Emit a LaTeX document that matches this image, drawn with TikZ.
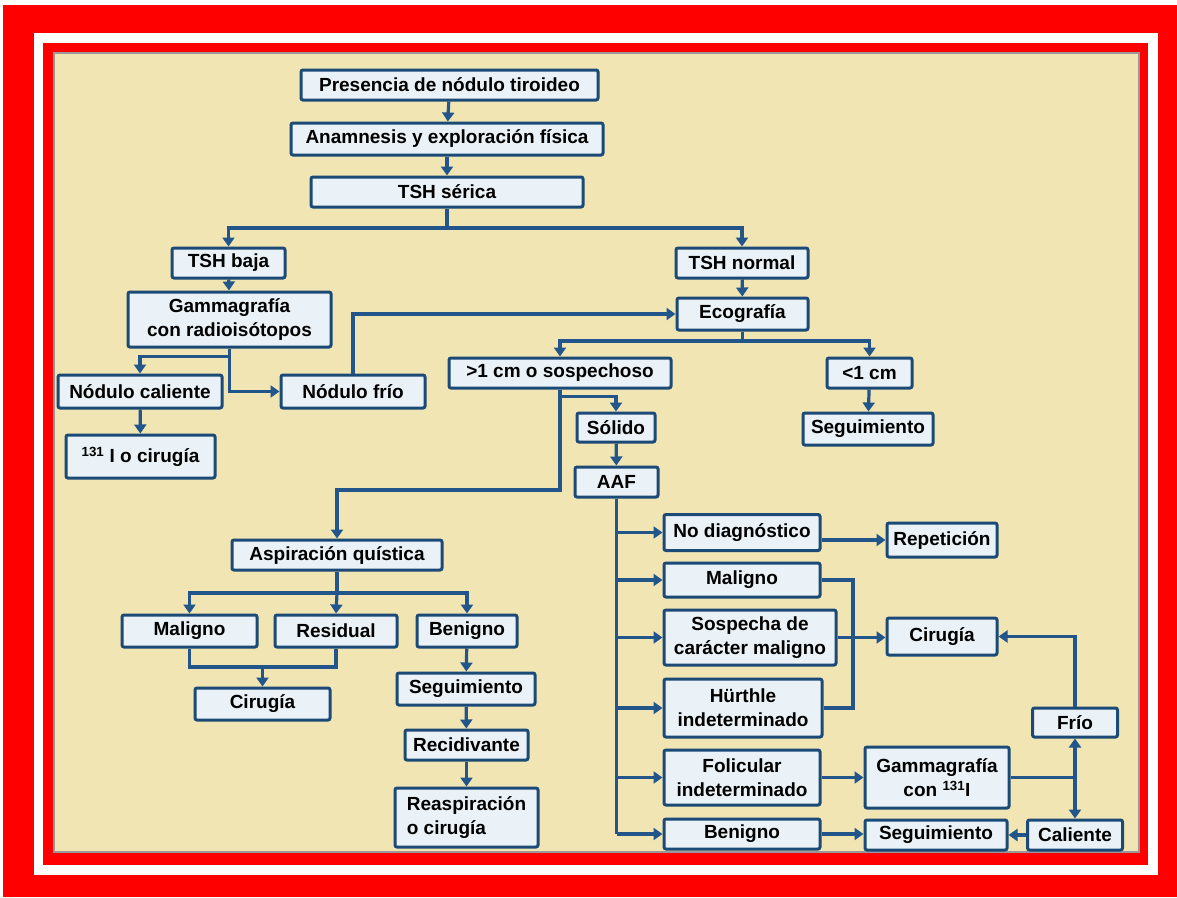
\documentclass[tikz,border=0pt]{standalone}
\usepackage{fontspec}
\setmainfont{Liberation Sans}
\usetikzlibrary{arrows.meta}
\definecolor{bg}{RGB}{241,229,180}
\definecolor{bxline}{RGB}{28,74,118}
\definecolor{bxfill}{RGB}{234,242,247}
\definecolor{conn}{RGB}{34,86,138}
\definecolor{rd}{RGB}{255,0,0}
\tikzset{
 bx/.style={draw=bxline, fill=bxfill, line width=3pt, rounded corners=2pt, inner sep=1pt, align=center, font=\bfseries\fontsize{19}{24}\selectfont, text=black},
 ln/.style={draw=conn, line width=3.2pt},
 ar/.style={ln, -{Triangle[width=12pt,length=9pt]}},
}
\begin{document}
\begin{tikzpicture}[x=1pt,y=-1pt]
\useasboundingbox (0,0) rectangle (1177,897);
% frame
\fill[white] (0,0) rectangle (1177,897);
\fill[rd] (3,5) rectangle (1177,897);
\fill[white] (34,33) rectangle (1158,875);
\fill[rd] (43,43) rectangle (1148,865);
\fill[bg] (54,53) rectangle (1139,852);
\draw[black!40, line width=1.5pt] (54,53) rectangle (1139,852);

% boxes
\node[bx, minimum width=297pt, minimum height=30pt] (pres) at (449.5,85) {Presencia de nódulo tiroideo};
\node[bx, minimum width=312pt, minimum height=32pt] (anam) at (447,139) {Anamnesis y exploración física};
\node[bx, minimum width=272pt, minimum height=30pt] (tsh) at (447,192) {TSH sérica};
\node[bx, minimum width=113pt, minimum height=30pt] (baja) at (228.5,263) {TSH baja};
\node[bx, minimum width=132pt, minimum height=30pt] (normal) at (742,263) {TSH normal};
\node[bx, minimum width=203pt, minimum height=55pt] (gamma) at (229.5,319.5) {Gammagrafía\\con radioisótopos};
\node[bx, minimum width=131pt, minimum height=32pt] (eco) at (742.5,314) {Ecografía};
\node[bx, minimum width=164pt, minimum height=33pt] (cal) at (140,391.5) {Nódulo caliente};
\node[bx, minimum width=144pt, minimum height=33pt] (frio) at (353,391.5) {Nódulo frío};
\node[bx, minimum width=149pt, minimum height=43pt] (iodo) at (140.5,456.5) {\textsuperscript{131} I o cirugía};
\node[bx, minimum width=222pt, minimum height=30pt] (gt) at (560,373) {>1 cm o sospechoso};
\node[bx, minimum width=85pt, minimum height=30pt] (lt) at (869.5,373) {<1 cm};
\node[bx, minimum width=130pt, minimum height=32pt] (segA) at (868,429) {Seguimiento};
\node[bx, minimum width=78pt, minimum height=29pt] (sol) at (616,427.5) {Sólido};
\node[bx, minimum width=83pt, minimum height=30pt] (aaf) at (616.5,482) {AAF};
\node[bx, minimum width=210pt, minimum height=30pt] (asp) at (337,555) {Aspiración quística};
\node[bx, minimum width=135pt, minimum height=32pt] (malA) at (189.5,631) {Maligno};
\node[bx, minimum width=122pt, minimum height=32pt] (res) at (336,631) {Residual};
\node[bx, minimum width=100pt, minimum height=32pt] (benA) at (467,631) {Benigno};
\node[bx, minimum width=135pt, minimum height=32pt] (cirA) at (262.5,704) {Cirugía};
\node[bx, minimum width=138pt, minimum height=32pt] (segB) at (466,689) {Seguimiento};
\node[bx, minimum width=123pt, minimum height=30pt] (rec) at (466.5,745) {Recidivante};
\node[bx, minimum width=143pt, minimum height=59pt, align=left] (reas) at (466.5,817.5) {Reaspiración\\o cirugía};
\node[bx, minimum width=156pt, minimum height=36pt] (nodiag) at (742,532.5) {No diagnóstico};
\node[bx, minimum width=110pt, minimum height=34pt] (rep) at (942,540) {Repetición};
\node[bx, minimum width=156pt, minimum height=34pt] (malB) at (742,580) {Maligno};
\node[bx, minimum width=172pt, minimum height=55pt] (sosp) at (750,637.5) {Sospecha de\\carácter maligno};
\node[bx, minimum width=158pt, minimum height=58pt] (hur) at (743,708) {Hürthle\\indeterminado};
\node[bx, minimum width=156pt, minimum height=55pt] (fol) at (742,777.5) {Folicular\\indeterminado};
\node[bx, minimum width=156pt, minimum height=30pt] (benB) at (742,834) {Benigno};
\node[bx, minimum width=110pt, minimum height=37pt] (cirB) at (942,636.5) {Cirugía};
\node[bx, minimum width=144pt, minimum height=61pt] (gamB) at (937,777.5) {Gammagrafía\\con \textsuperscript{131}I};
\node[bx, minimum width=85pt, minimum height=29pt] (frioB) at (1075,722.5) {Frío};
\node[bx, minimum width=142pt, minimum height=30pt] (segC) at (936,835) {Seguimiento};
\node[bx, minimum width=95pt, minimum height=30pt] (calB) at (1075,835) {Caliente};

% connectors
\draw[ar] (pres) -- (anam);
\draw[ar] (anam) -- (tsh);
\coordinate (j1) at (447,228);
\draw[ln] (tsh.south) -- (j1);
\draw[ar] (j1) -| (baja.north);
\draw[ar] (j1) -| (normal.north);
\draw[ar] (baja) -- (gamma);
\draw[ar] (normal) -- (eco);
\draw[ar] (gamma.south) -- ++(0,8) -| (cal.north);
\draw[ar] (gamma.south) |- (frio.west);
\draw[ar] (frio.north) |- (eco.west);
\draw[ar] (cal) -- (iodo);
\coordinate (j2) at (742.5,341);
\draw[ln] (eco.south) -- (j2);
\draw[ar] (j2) -| (gt.north);
\draw[ar] (j2) -| (lt.north);
\draw[ar] (lt) -- (segA);
\draw[ar] (gt.south) -- ++(0,7) -| (sol.north);
\coordinate (j3) at (337,490);
\draw[ar] (gt.south) |- (j3) -- (asp.north);
\draw[ar] (sol) -- (aaf);
\coordinate (j4) at (337,593);
\draw[ln] (asp.south) -- (j4);
\draw[ar] (j4) -| (malA.north);
\draw[ar] (j4) -- (res.north);
\draw[ar] (j4) -| (benA.north);
\coordinate (j5) at (262.5,667);
\draw[ln] (malA.south) |- (j5) -| (res.south);
\draw[ar] (j5) -- (cirA.north);
\draw[ar] (benA) -- (segB);
\draw[ar] (segB) -- (rec);
\draw[ar] (rec) -- (reas);
% AAF branches
\draw[ln] (aaf.south) -- (aaf.south |- benB.west);
\foreach \b in {nodiag,malB,sosp,hur,fol,benB}
  \draw[ar] (aaf.south |- \b.west) -- (\b.west);
\draw[ar] (nodiag.east |- rep.west) -- (rep.west);
\coordinate (j6) at (853,580);
\draw[ln] (malB.east) -- (j6) |- (hur.east);
\draw[ar] (sosp.east) -- (sosp.east -| cirB.west);
\draw[ar] (frioB.north) |- (cirB.east);
\draw[ar] (fol.east) -- (fol.east -| gamB.west);
\coordinate (j7) at (frioB.south |- gamB.east);
\draw[ln] (gamB.east) -- (j7);
\draw[ar] (j7) -- (frioB.south);
\draw[ar] (j7) -- (calB.north);
\draw[ar] (calB.west) -- (segC.east);
\draw[ar] (benB.east) -- (benB.east -| segC.west);
\end{tikzpicture}
\end{document}
